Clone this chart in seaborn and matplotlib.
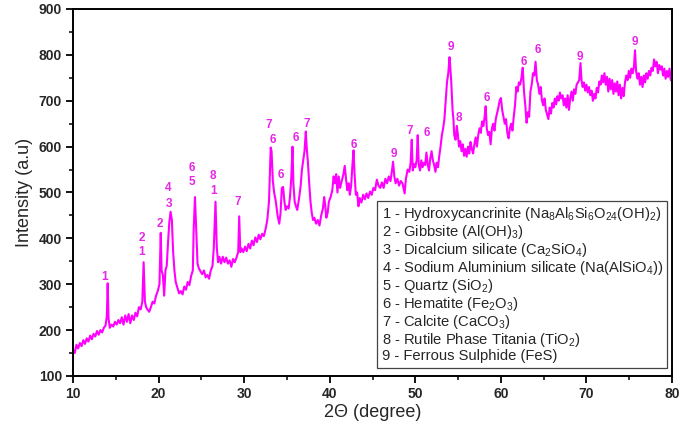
from matplotlib import pyplot as plt
from matplotlib.lines import Line2D
from matplotlib.ticker import MultipleLocator
import seaborn as sns
import pandas as pd

# XRD pattern (2theta in degree, intensity in a.u.)
two_theta = [
    10.0, 10.2, 10.4, 10.6, 10.8, 11.0, 11.2, 11.4, 11.6, 11.8,
    12.0, 12.2, 12.4, 12.6, 12.8, 13.0, 13.2, 13.4, 13.6, 13.8,
    13.95, 14.05, 14.15, 14.3, 14.5, 14.7, 14.9, 15.1, 15.3, 15.5,
    15.7, 15.9, 16.1, 16.3, 16.5, 16.7, 16.9, 17.1, 17.3, 17.5,
    17.7, 17.9, 18.1, 18.25, 18.4, 18.55, 18.7, 18.9, 19.1, 19.3,
    19.5, 19.7, 19.9, 20.1, 20.25, 20.35, 20.5, 20.65, 20.8, 20.95,
    21.1, 21.25, 21.4, 21.55, 21.7, 21.85, 22.0, 22.2, 22.4, 22.6,
    22.8, 23.0, 23.2, 23.4, 23.6, 23.8, 24.0, 24.1, 24.25, 24.4,
    24.55, 24.7, 24.9, 25.1, 25.3, 25.5, 25.7, 25.9, 26.1, 26.3,
    26.45, 26.65, 26.8, 26.95, 27.1, 27.3, 27.5, 27.7, 27.9, 28.1,
    28.3, 28.5, 28.7, 28.9, 29.1, 29.3, 29.42, 29.55, 29.7, 29.9,
    30.1, 30.3, 30.5, 30.7, 30.9, 31.1, 31.3, 31.5, 31.7, 31.9,
    32.1, 32.3, 32.5, 32.7, 32.9, 33.0, 33.1, 33.2, 33.35, 33.5,
    33.7, 33.9, 34.1, 34.25, 34.4, 34.55, 34.7, 34.85, 35.0, 35.2,
    35.35, 35.5, 35.65, 35.75, 35.9, 36.05, 36.2, 36.4, 36.6, 36.75,
    36.9, 37.05, 37.2, 37.3, 37.45, 37.6, 37.75, 37.9, 38.05, 38.2,
    38.4, 38.6, 38.8, 39.0, 39.2, 39.35, 39.45, 39.6, 39.75, 39.9,
    40.1, 40.3, 40.45, 40.6, 40.75, 40.9, 41.05, 41.2, 41.4, 41.6,
    41.75, 41.9, 42.05, 42.2, 42.35, 42.5, 42.65, 42.78, 42.9, 43.05,
    43.2, 43.35, 43.5, 43.7, 43.9, 44.1, 44.3, 44.5, 44.7, 44.9,
    45.1, 45.3, 45.5, 45.7, 45.9, 46.1, 46.3, 46.5, 46.7, 46.9,
    47.1, 47.25, 47.4, 47.55, 47.7, 47.9, 48.1, 48.3, 48.5, 48.75,
    48.9, 49.1, 49.3, 49.45, 49.58, 49.7, 49.85, 50.0, 50.15, 50.28,
    50.4, 50.55, 50.7, 50.85, 51.0, 51.15, 51.3, 51.45, 51.6, 51.75,
    51.9, 52.05, 52.2, 52.35, 52.5, 52.65, 52.8, 52.95, 53.1, 53.25,
    53.4, 53.55, 53.7, 53.85, 54.0, 54.1, 54.2, 54.35, 54.45, 54.55,
    54.7, 54.85, 54.95, 55.1, 55.25, 55.4, 55.55, 55.7, 55.85, 56.0,
    56.15, 56.3, 56.45, 56.6, 56.75, 56.9, 57.05, 57.2, 57.35, 57.5,
    57.65, 57.8, 57.95, 58.1, 58.22, 58.35, 58.5, 58.65, 58.8, 58.95,
    59.1, 59.25, 59.4, 59.55, 59.7, 59.85, 60.0, 60.15, 60.3, 60.45,
    60.6, 60.75, 60.9, 61.05, 61.2, 61.35, 61.5, 61.65, 61.8, 61.95,
    62.1, 62.25, 62.4, 62.55, 62.7, 62.85, 63.0, 63.15, 63.3, 63.45,
    63.6, 63.75, 63.9, 64.05, 64.2, 64.35, 64.5, 64.65, 64.8, 64.95,
    65.1, 65.25, 65.4, 65.55, 65.7, 65.85, 66.0, 66.15, 66.3, 66.45,
    66.6, 66.75, 66.9, 67.05, 67.2, 67.35, 67.5, 67.65, 67.8, 67.95,
    68.1, 68.25, 68.4, 68.55, 68.7, 68.85, 69.0, 69.15, 69.3, 69.42,
    69.55, 69.7, 69.85, 70.0, 70.15, 70.3, 70.45, 70.6, 70.75, 70.9,
    71.05, 71.2, 71.35, 71.5, 71.65, 71.8, 71.95, 72.1, 72.25, 72.4,
    72.55, 72.7, 72.85, 73.0, 73.15, 73.3, 73.45, 73.6, 73.75, 73.9,
    74.05, 74.2, 74.35, 74.5, 74.65, 74.8, 74.95, 75.1, 75.25, 75.4,
    75.55, 75.67, 75.8, 75.95, 76.1, 76.25, 76.4, 76.55, 76.7, 76.85,
    77.0, 77.15, 77.3, 77.45, 77.6, 77.75, 77.9, 78.05, 78.2, 78.35,
    78.5, 78.65, 78.8, 78.95, 79.1, 79.25, 79.4, 79.55, 79.7, 79.85,
    80.0,
]
intensity = [
    158, 150, 168, 160, 172, 165, 178, 170, 182, 175,
    188, 180, 192, 186, 198, 190, 200, 195, 205, 210,
    230, 302, 225, 205, 212, 208, 218, 212, 222, 215,
    228, 212, 232, 218, 235, 215, 232, 222, 238, 230,
    250, 245, 262, 348, 262, 250, 245, 240, 250, 262,
    258, 275, 285, 300, 412, 330, 320, 275, 330, 340,
    390, 435, 458, 440, 370, 330, 305, 292, 280, 285,
    278, 295, 288, 305, 298, 318, 330, 420, 490, 420,
    345, 335, 328, 322, 330, 315, 320, 312, 330, 340,
    380, 480, 380, 348, 360, 345, 360, 348, 358, 345,
    352, 338, 355, 348, 358, 370, 448, 370, 378, 370,
    382, 372, 388, 378, 395, 385, 402, 392, 408, 398,
    410, 405, 420, 440, 480, 540, 598, 590, 525, 500,
    480, 450, 432, 455, 510, 512, 480, 462, 470, 465,
    490, 530, 600, 520, 480, 470, 462, 485, 515, 550,
    570, 590, 633, 600, 565, 520, 480, 455, 440, 445,
    432, 440, 428, 450, 465, 490, 475, 445, 455, 480,
    490, 505, 535, 520, 540, 500, 535, 510, 525, 540,
    558, 530, 505, 520, 495, 515, 560, 592, 540, 495,
    500, 470, 488, 478, 495, 485, 498, 488, 502, 495,
    510, 505, 528, 515, 510, 522, 510, 530, 520, 535,
    525, 545, 567, 535, 520, 530, 515, 525, 520, 498,
    530, 550, 545, 565, 615, 548, 562, 555, 570, 625,
    560, 548, 570, 555, 565, 560, 587, 560, 548, 575,
    590, 570, 560, 545, 565, 555, 580, 600, 625, 640,
    660, 700, 740, 760, 795, 770, 740, 680, 660, 625,
    615, 645, 630, 600, 612, 590, 605, 580, 595, 578,
    600, 585, 610, 595, 585, 605, 620, 600, 625, 640,
    630, 655, 645, 665, 688, 640, 625, 632, 605, 640,
    650, 635, 660, 672, 685, 700, 706, 680, 665, 650,
    660, 630, 618, 640, 650, 635, 665, 690, 730, 720,
    740, 735, 750, 772, 720, 690, 652, 675, 665, 720,
    735, 760, 755, 785, 745, 735, 715, 730, 700, 690,
    705, 680, 670, 660, 685, 672, 695, 685, 705, 692,
    710, 700, 718, 705, 712, 690, 705, 685, 712, 680,
    705, 720, 700, 725, 715, 735, 740, 745, 782, 745,
    730, 740, 722, 735, 718, 730, 712, 722, 700, 715,
    705, 728, 718, 742, 735, 755, 740, 760, 735, 752,
    720, 748, 725, 745, 715, 738, 720, 742, 712, 735,
    705, 728, 710, 740, 755, 745, 765, 750, 770, 760,
    775, 810, 765, 748, 760, 735, 752, 730, 755, 740,
    760, 748, 765, 755, 772, 765, 790, 775, 785, 760,
    778, 768, 775, 755, 770, 748, 765, 752, 770, 745,
    765,
]

# phase numbers written above the peaks
peak_text = ['1', '1', '2', '2', '3', '4', '5', '6', '1', '8', '7',
             '6', '7', '6', '6', '7', '6', '9', '7', '6', '9', '8',
             '6', '6', '6', '9', '9']
peak_x = [13.66, 18.05, 18.0, 20.13, 21.2, 21.14, 23.9, 23.87, 26.45, 26.4, 29.2,
          33.4, 32.83, 34.27, 36.0, 37.3, 42.76, 47.5, 49.3, 51.33, 54.14, 55.1,
          58.34, 62.63, 64.3, 69.25, 75.68]
peak_y = [316, 370, 401, 431, 475, 510, 523, 553, 503, 536, 480,
          614, 647, 538, 619, 649, 603, 583, 634, 629, 817, 662,
          706, 784, 810, 795, 827]

phases = [
    r'1 - Hydroxycancrinite (Na$_8$Al$_6$Si$_6$O$_{24}$(OH)$_2$)',
    r'2 - Gibbsite (Al(OH)$_3$)',
    r'3 - Dicalcium silicate (Ca$_2$SiO$_4$)',
    r'4 - Sodium Aluminium silicate (Na(AlSiO$_4$))',
    r'5 - Quartz (SiO$_2$)',
    r'6 - Hematite (Fe$_2$O$_3$)',
    r'7 - Calcite (CaCO$_3$)',
    r'8 - Rutile Phase Titania (TiO$_2$)',
    r'9 - Ferrous Sulphide (FeS)',
]

sns.set_theme(style='ticks')
plt.rcParams['font.family'] = ['Liberation Sans', 'DejaVu Sans']
plt.rcParams['mathtext.default'] = 'regular'

line_color = '#ff00ff'
label_color = '#e826e8'

df = pd.DataFrame({'two_theta': two_theta, 'intensity': intensity})

fig = plt.figure(figsize=(6.85, 4.26), dpi=100)
ax = fig.add_axes([0.1066, 0.1174, 0.8745, 0.8615])

sns.lineplot(data=df, x='two_theta', y='intensity', ax=ax,
             color=line_color, linewidth=1.5, estimator=None)

for t, x, y in zip(peak_text, peak_x, peak_y):
    ax.text(x, y, t, color=label_color, fontsize=8.5, fontweight='bold',
            ha='center', va='center')

ax.set_xlim(10, 80)
ax.set_ylim(100, 900)
ax.xaxis.set_major_locator(MultipleLocator(10))
ax.xaxis.set_minor_locator(MultipleLocator(5))
ax.yaxis.set_major_locator(MultipleLocator(100))
ax.yaxis.set_minor_locator(MultipleLocator(50))
ax.tick_params(which='major', direction='out', length=5, width=1.3,
               labelsize=10, color='black', pad=3)
ax.tick_params(which='minor', direction='out', length=3, width=1.1, color='black')
for lbl in ax.get_xticklabels() + ax.get_yticklabels():
    lbl.set_fontweight('bold')

for side in ['top', 'right', 'bottom', 'left']:
    ax.spines[side].set_visible(True)
    ax.spines[side].set_linewidth(1.4)
    ax.spines[side].set_color('black')

ax.set_xlabel('2\u0398 (degree)', fontsize=13, labelpad=2)
ax.set_ylabel('Intensity (a.u)', fontsize=13, labelpad=4)

# legend box holding only text lines
handles = [Line2D([], [], linestyle='none') for _ in phases]
leg = ax.legend(handles, phases, loc='lower right', bbox_to_anchor=(0.992, 0.022),
                borderaxespad=0, handlelength=0, handletextpad=0, fontsize=10.6,
                frameon=True, fancybox=False, framealpha=1, edgecolor='#444444',
                labelspacing=0.0, borderpad=0.3)
leg.get_frame().set_linewidth(0.9)

fig.savefig('out.png', dpi=100)
